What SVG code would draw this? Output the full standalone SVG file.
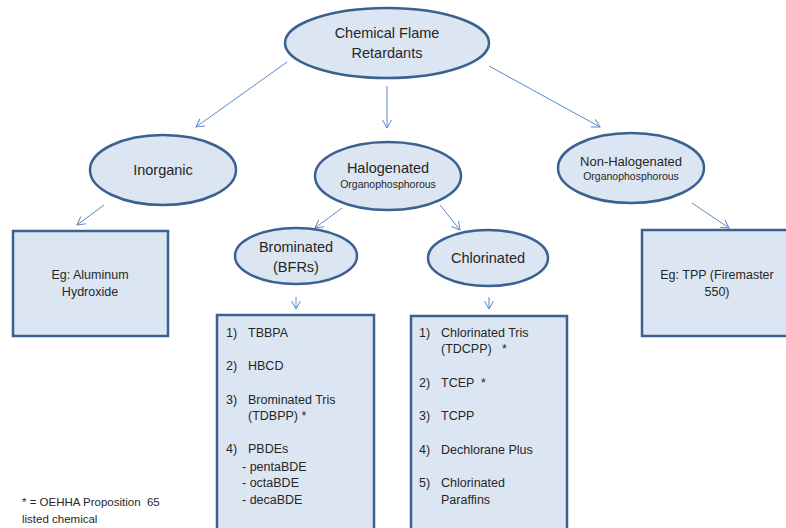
<svg xmlns="http://www.w3.org/2000/svg" width="786" height="528" viewBox="0 0 786 528">
<style>
.n{fill:#dce6f2;stroke:#3b6191;stroke-width:2.5}
.t{font-family:"Liberation Sans",Arial,sans-serif;fill:#262626;white-space:pre}
.b{font-size:14.5px;text-anchor:middle}
.s{font-size:10.5px;text-anchor:middle}
.l{font-size:12.5px}
.c{fill:none;stroke:#5b8ac6;stroke-width:1}
</style>
<defs>
<marker id="a" markerWidth="12" markerHeight="12" refX="9" refY="5" orient="auto" markerUnits="userSpaceOnUse">
<path d="M1,0.5 L9,5 L1,9.5" fill="none" stroke="#5b8ac6" stroke-width="1"/>
</marker>
</defs>
<rect width="786" height="528" fill="#fff"/>
<g id="connectors">
<line class="c" x1="287" y1="62" x2="196" y2="127" marker-end="url(#a)"/>
<line class="c" x1="387" y1="86" x2="387" y2="128" marker-end="url(#a)"/>
<line class="c" x1="489" y1="66" x2="600" y2="127" marker-end="url(#a)"/>
<line class="c" x1="104" y1="205" x2="77" y2="225" marker-end="url(#a)"/>
<line class="c" x1="342" y1="208" x2="315" y2="228" marker-end="url(#a)"/>
<line class="c" x1="440" y1="205" x2="460" y2="230" marker-end="url(#a)"/>
<line class="c" x1="692" y1="203" x2="729" y2="228" marker-end="url(#a)"/>
<line class="c" x1="296" y1="297" x2="296" y2="309" marker-end="url(#a)"/>
<line class="c" x1="489" y1="297" x2="489" y2="309" marker-end="url(#a)"/>
</g>
<g id="root">
<ellipse class="n" cx="387" cy="43" rx="102" ry="35"/>
<text class="t b" x="387" y="38">Chemical Flame</text>
<text class="t b" x="387" y="58">Retardants</text>
</g>
<g id="inorganic">
<ellipse class="n" cx="163" cy="170" rx="73" ry="35"/>
<text class="t b" x="163" y="175">Inorganic</text>
</g>
<g id="halogenated">
<ellipse class="n" cx="388" cy="176" rx="73" ry="34"/>
<text class="t b" x="388" y="173">Halogenated</text>
<text class="t s" x="388" y="188">Organophosphorous</text>
</g>
<g id="nonhalogenated">
<ellipse class="n" cx="631" cy="168" rx="73" ry="35"/>
<text class="t" x="631" y="166" font-size="13" text-anchor="middle">Non-Halogenated</text>
<text class="t s" x="631" y="180">Organophosphorous</text>
</g>
<g id="brominated">
<ellipse class="n" cx="296" cy="256" rx="61" ry="28"/>
<text class="t b" x="296" y="252">Brominated</text>
<text class="t b" x="296" y="272">(BFRs)</text>
</g>
<g id="chlorinated">
<ellipse class="n" cx="488" cy="258" rx="60" ry="28"/>
<text class="t b" x="488" y="263">Chlorinated</text>
</g>
<g id="aluminum">
<rect class="n" x="13" y="231" width="155" height="105"/>
<text class="t l" x="90" y="279" text-anchor="middle">Eg: Aluminum</text>
<text class="t l" x="90" y="296" text-anchor="middle">Hydroxide</text>
</g>
<g id="tpp">
<rect class="n" x="642" y="230" width="152" height="106"/>
<text class="t l" x="717" y="279" text-anchor="middle">Eg: TPP (Firemaster</text>
<text class="t l" x="717" y="296" text-anchor="middle">550)</text>
</g>
<g id="bfr-list">
<rect class="n" x="217" y="315" width="157" height="220"/>
<text class="t l" x="226" y="337">1)</text><text class="t l" x="248" y="337">TBBPA</text>
<text class="t l" x="226" y="370">2)</text><text class="t l" x="248" y="370">HBCD</text>
<text class="t l" x="226" y="404">3)</text><text class="t l" x="248" y="404">Brominated Tris</text>
<text class="t l" x="248" y="420">(TDBPP) *</text>
<text class="t l" x="226" y="453">4)</text><text class="t l" x="248" y="453">PBDEs</text>
<text class="t l" x="242" y="471">- pentaBDE</text>
<text class="t l" x="242" y="487">- octaBDE</text>
<text class="t l" x="242" y="504">- decaBDE</text>
</g>
<g id="cl-list">
<rect class="n" x="411" y="316" width="156" height="220"/>
<text class="t l" x="419" y="337">1)</text><text class="t l" x="441" y="337">Chlorinated Tris</text>
<text class="t l" x="441" y="353" xml:space="preserve">(TDCPP)   *</text>
<text class="t l" x="419" y="387">2)</text><text class="t l" x="441" y="387" xml:space="preserve">TCEP  *</text>
<text class="t l" x="419" y="420">3)</text><text class="t l" x="441" y="420">TCPP</text>
<text class="t l" x="419" y="454">4)</text><text class="t l" x="441" y="454">Dechlorane Plus</text>
<text class="t l" x="419" y="487">5)</text><text class="t l" x="441" y="487">Chlorinated</text>
<text class="t l" x="441" y="504">Paraffins</text>
</g>
<g id="footnote">
<text class="t" x="22" y="506" font-size="11.5" xml:space="preserve">* = OEHHA Proposition  65</text>
<text class="t" x="22" y="523" font-size="11.5">listed chemical</text>
</g>
</svg>
